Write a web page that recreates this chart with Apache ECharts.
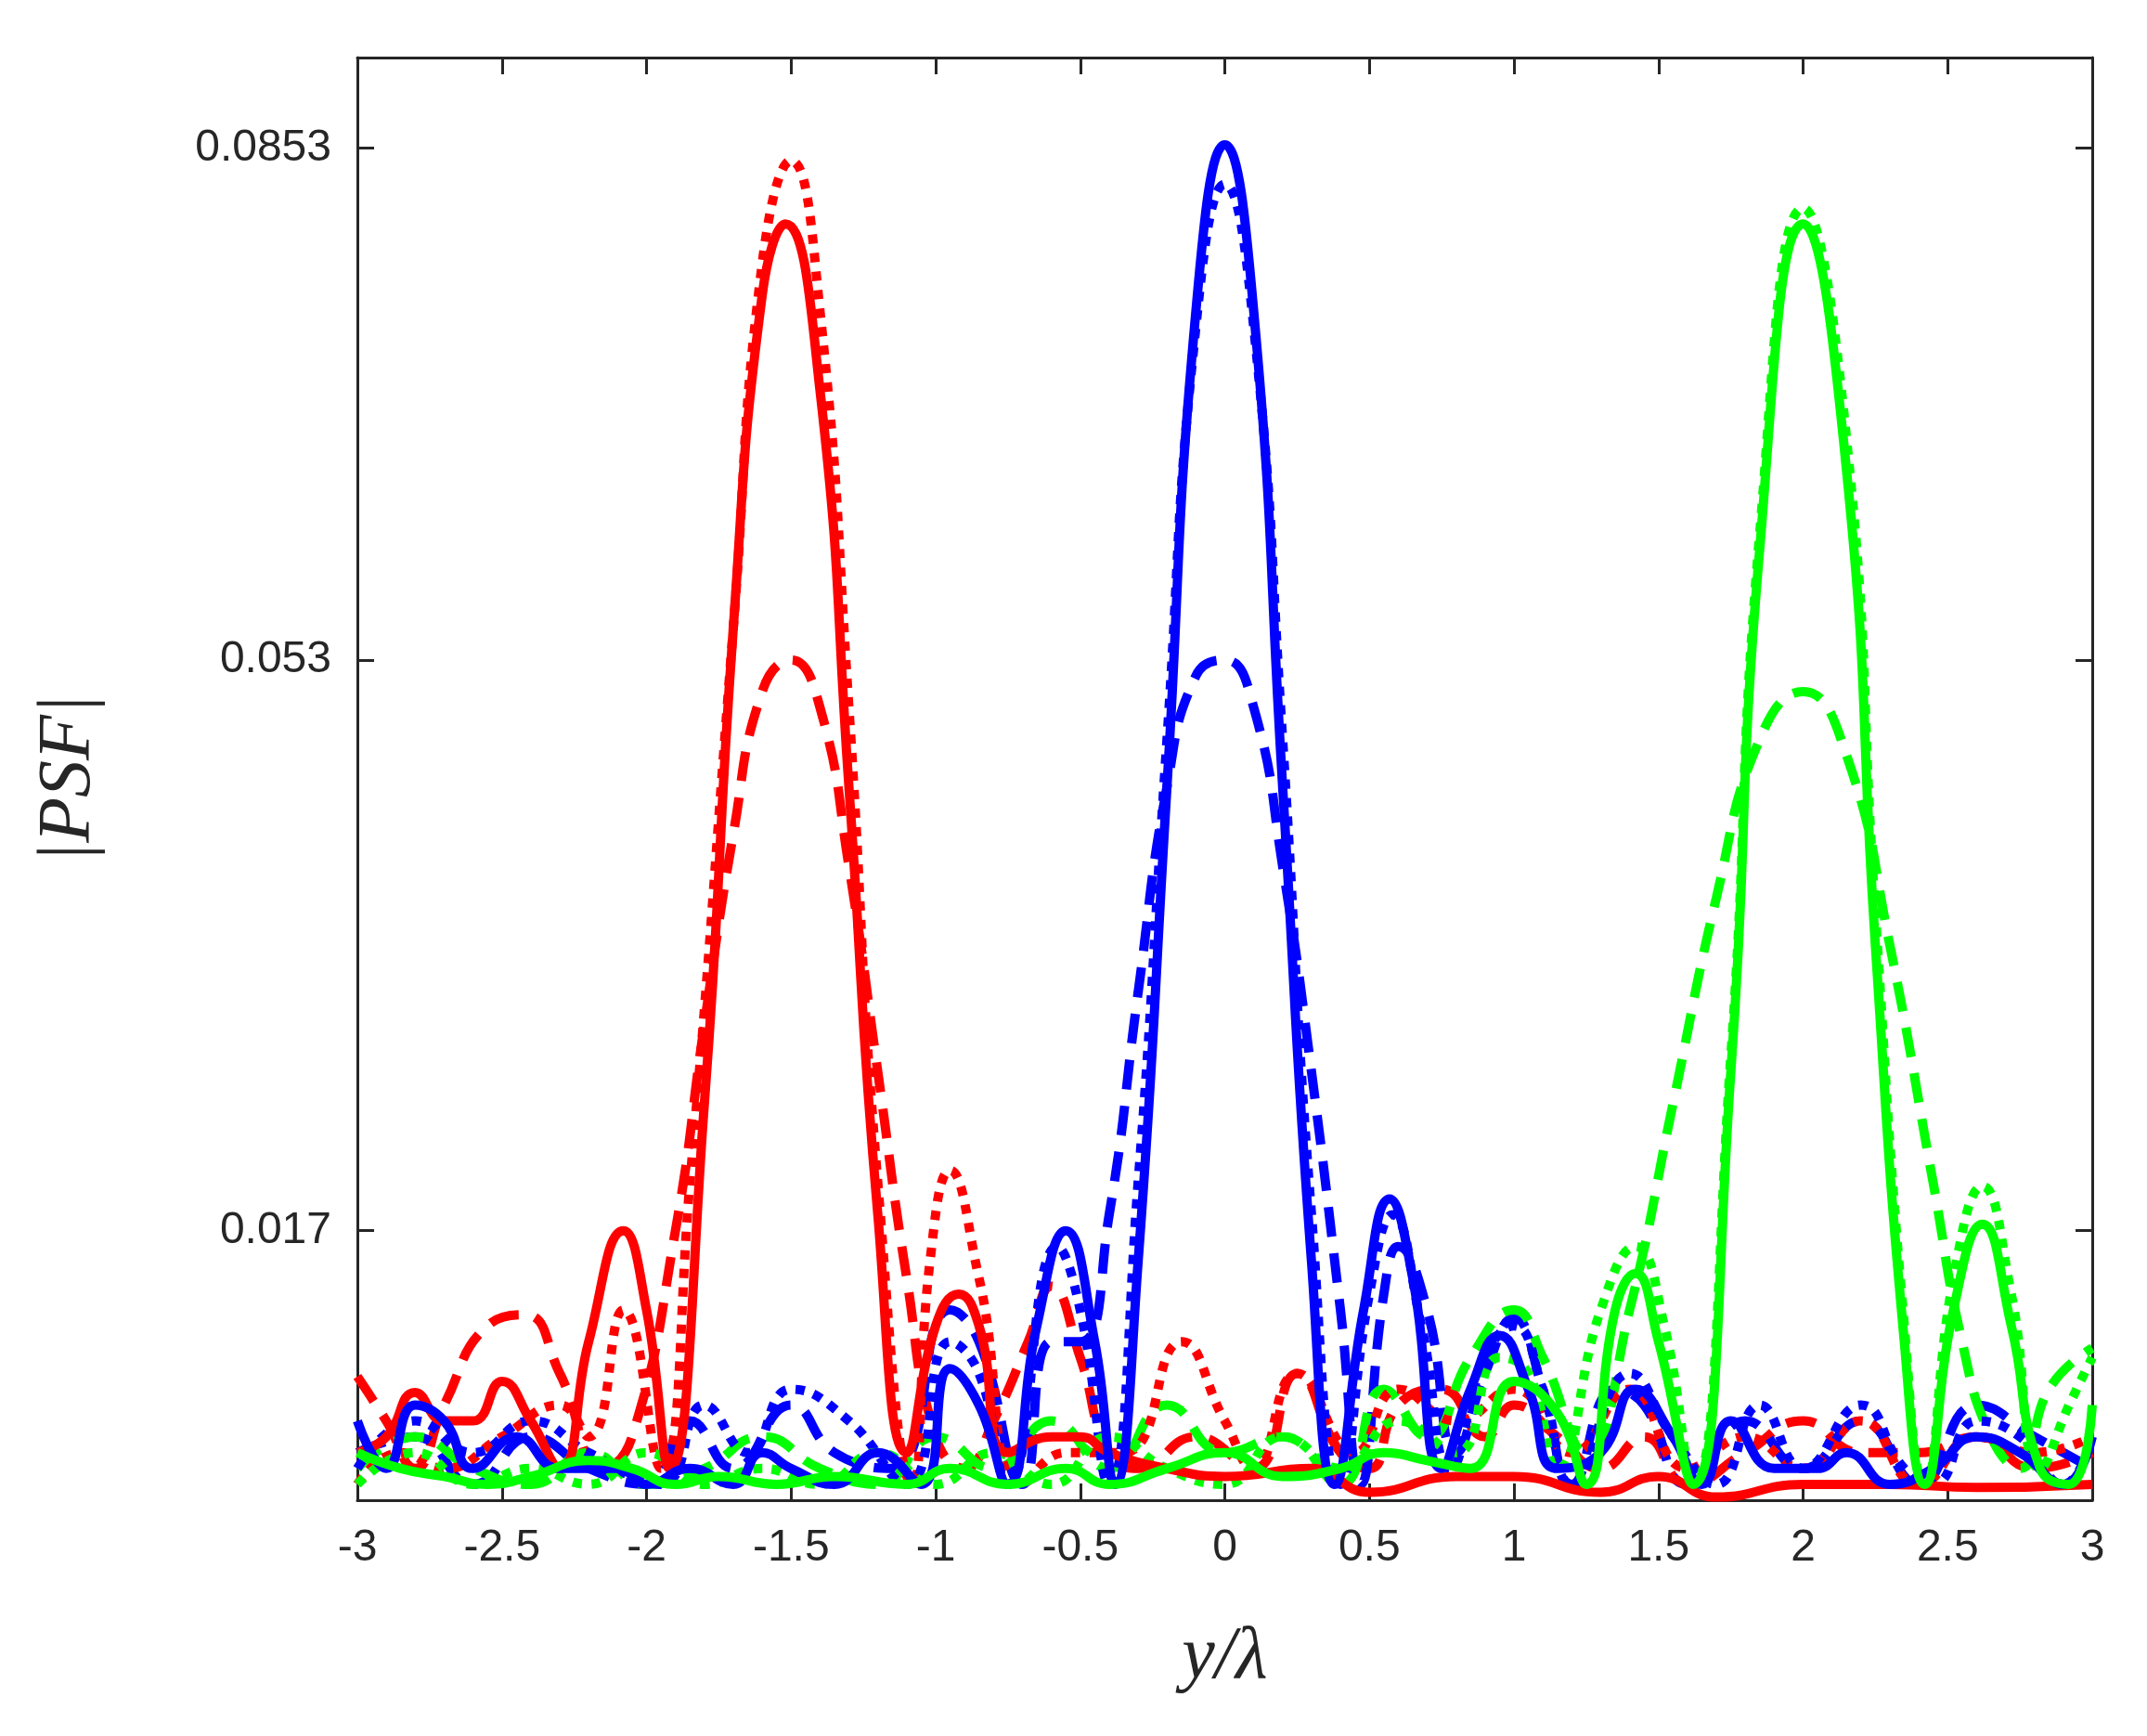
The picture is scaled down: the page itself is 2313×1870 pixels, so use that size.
<!DOCTYPE html>
<html><head><meta charset="utf-8">
<script src="https://cdn.jsdelivr.net/npm/echarts@6/dist/echarts.min.js"></script>
<style>html,body{margin:0;padding:0;background:#fff}#c{width:2313px;height:1870px}</style>
</head><body><div id="c"></div>
<script>
const xTicks = [-3,-2.5,-2,-1.5,-1,-0.5,0,0.5,1,1.5,2,2.5,3];
const yTicks = [0.017,0.053,0.0853];
const redSolid = [[-3,0.003],[-2.9,0.004],[-2.8,0.0068],[-2.7,0.005],[-2.6,0.005],[-2.5,0.0075],[-2.4,0.005],[-2.3,0.002],[-2.2,0.01],[-2.08,0.017],[-2.0,0.012],[-1.92,0.002],[-1.8,0.025],[-1.7,0.055],[-1.6,0.076],[-1.52,0.0805],[-1.4,0.07],[-1.3,0.045],[-1.2,0.018],[-1.1,0.003],[-1.0,0.011],[-0.92,0.013],[-0.85,0.011],[-0.75,0.003],[-0.6,0.004],[-0.5,0.004],[-0.4,0.003],[-0.2,0.002],[0,0.0015],[0.3,0.002],[0.5,0.0005],[0.8,0.0015],[1,0.0015],[1.3,0.0005],[1.5,0.0015],[1.7,0.0002],[2.0,0.001],[2.3,0.001],[2.6,0.0008],[3,0.001]];
const redDotted = [[-3,0.001],[-2.85,0.003],[-2.7,0.002],[-2.5,0.004],[-2.3,0.006],[-2.2,0.004],[-2.08,0.012],[-1.95,0.002],[-1.85,0.02],[-1.7,0.055],[-1.6,0.078],[-1.5,0.0845],[-1.4,0.075],[-1.3,0.05],[-1.2,0.02],[-1.08,0.001],[-1.02,0.015],[-0.95,0.0208],[-0.85,0.014],[-0.7,0.001],[-0.55,0.003],[-0.35,0.003],[-0.15,0.010],[0,0.005],[0.1,0.002],[0.25,0.008],[0.45,0.003],[0.6,0.007],[0.8,0.005],[1.0,0.007],[1.2,0.003],[1.4,0.007],[1.6,0.002],[1.8,0.004],[2.0,0.002],[2.2,0.005],[2.4,0.001],[2.6,0.004],[2.8,0.003],[3,0.004]];
const redDashed = [[-3,0.0078],[-2.9,0.005],[-2.8,0.002],[-2.7,0.006],[-2.55,0.011],[-2.42,0.0117],[-2.3,0.008],[-2.15,0.002],[-2.05,0.004],[-1.9,0.017],[-1.8,0.03],[-1.7,0.042],[-1.6,0.051],[-1.5,0.053],[-1.4,0.05],[-1.3,0.04],[-1.2,0.027],[-1.1,0.014],[-1.0,0.004],[-0.9,0.002],[-0.8,0.005],[-0.68,0.010],[-0.6,0.0135],[-0.5,0.009],[-0.4,0.003],[-0.3,0.002],[-0.1,0.004],[0.1,0.002],[0.25,0.008],[0.4,0.003],[0.5,0.002],[0.6,0.006],[0.75,0.007],[0.9,0.004],[1.0,0.006],[1.15,0.004],[1.3,0.002],[1.45,0.004],[1.6,0.001],[1.8,0.003],[2.0,0.005],[2.2,0.003],[2.4,0.003],[2.6,0.004],[2.8,0.002],[3,0.003]];
const blueSolid = [[-3,0.005],[-2.9,0.002],[-2.8,0.006],[-2.7,0.005],[-2.6,0.002],[-2.45,0.004],[-2.3,0.002],[-2.1,0.002],[-2.0,0.001],[-1.85,0.002],[-1.7,0.001],[-1.6,0.003],[-1.5,0.002],[-1.35,0.001],[-1.2,0.003],[-1.05,0.001],[-0.95,0.0083],[-0.85,0.006],[-0.75,0.001],[-0.65,0.011],[-0.55,0.017],[-0.45,0.01],[-0.38,0.001],[-0.3,0.015],[-0.2,0.045],[-0.1,0.075],[0,0.0855],[0.1,0.075],[0.2,0.045],[0.3,0.015],[0.38,0.001],[0.48,0.012],[0.57,0.019],[0.65,0.014],[0.75,0.002],[0.85,0.007],[0.95,0.0104],[1.05,0.007],[1.15,0.002],[1.3,0.003],[1.42,0.007],[1.55,0.004],[1.65,0.001],[1.75,0.005],[1.9,0.002],[2.05,0.002],[2.15,0.003],[2.3,0.001],[2.45,0.002],[2.6,0.004],[2.75,0.003],[2.9,0.001],[3,0.004]];
const blueDotted = [[-3,0.002],[-2.8,0.005],[-2.6,0.003],[-2.4,0.005],[-2.2,0.003],[-1.95,0.001],[-1.8,0.006],[-1.65,0.003],[-1.5,0.007],[-1.3,0.005],[-1.1,0.001],[-0.95,0.010],[-0.85,0.008],[-0.75,0.001],[-0.58,0.016],[-0.5,0.012],[-0.4,0.001],[-0.3,0.02],[-0.2,0.048],[-0.1,0.074],[0,0.083],[0.1,0.074],[0.2,0.048],[0.3,0.018],[0.4,0.001],[0.5,0.013],[0.58,0.018],[0.68,0.011],[0.78,0.002],[0.9,0.009],[1.0,0.011],[1.1,0.007],[1.2,0.001],[1.4,0.008],[1.55,0.004],[1.7,0.001],[1.85,0.006],[2.0,0.002],[2.2,0.006],[2.35,0.002],[2.45,0.001],[2.6,0.005],[2.75,0.004],[2.9,0.001],[3,0.004]];
const blueDashed = [[-3,0.003],[-2.8,0.004],[-2.6,0.001],[-2.4,0.004],[-2.2,0.002],[-2.0,0.001],[-1.85,0.005],[-1.7,0.002],[-1.5,0.006],[-1.35,0.003],[-1.15,0.002],[-0.95,0.012],[-0.85,0.01],[-0.7,0.001],[-0.6,0.010],[-0.5,0.01],[-0.4,0.018],[-0.3,0.032],[-0.2,0.045],[-0.1,0.052],[0,0.053],[0.1,0.05],[0.2,0.04],[0.3,0.027],[0.4,0.012],[0.47,0.001],[0.55,0.013],[0.6,0.016],[0.7,0.012],[0.8,0.003],[0.9,0.008],[1.0,0.0115],[1.1,0.007],[1.2,0.001],[1.35,0.007],[1.45,0.006],[1.6,0.001],[1.8,0.005],[2.0,0.002],[2.2,0.005],[2.4,0.001],[2.6,0.006],[2.8,0.004],[3,0.002]];
const greenSolid = [[-3,0.003],[-2.85,0.002],[-2.7,0.0015],[-2.55,0.001],[-2.4,0.0015],[-2.2,0.0025],[-2.05,0.002],[-1.9,0.001],[-1.75,0.0015],[-1.55,0.001],[-1.35,0.0015],[-1.1,0.001],[-0.95,0.002],[-0.75,0.001],[-0.55,0.002],[-0.4,0.001],[-0.2,0.002],[0,0.003],[0.2,0.0015],[0.4,0.002],[0.55,0.003],[0.7,0.0025],[0.85,0.002],[1.0,0.0075],[1.15,0.0055],[1.25,0.001],[1.35,0.012],[1.42,0.0143],[1.5,0.01],[1.62,0.001],[1.75,0.027],[1.85,0.06],[2.0,0.0805],[2.15,0.065],[2.25,0.035],[2.35,0.01],[2.42,0.001],[2.52,0.012],[2.62,0.0174],[2.72,0.011],[2.82,0.002],[2.92,0.001],[3,0.006]];
const greenDotted = [[-3,0.001],[-2.8,0.003],[-2.6,0.001],[-2.4,0.002],[-2.2,0.001],[-2.0,0.003],[-1.8,0.001],[-1.6,0.002],[-1.4,0.001],[-1.2,0.003],[-1.0,0.001],[-0.8,0.003],[-0.6,0.001],[-0.4,0.004],[-0.2,0.002],[0,0.001],[0.2,0.004],[0.4,0.002],[0.6,0.005],[0.8,0.003],[0.95,0.009],[1.05,0.008],[1.15,0.002],[1.3,0.012],[1.42,0.016],[1.52,0.011],[1.62,0.001],[1.75,0.028],[1.85,0.061],[2.0,0.0815],[2.15,0.067],[2.25,0.037],[2.35,0.011],[2.42,0.001],[2.52,0.014],[2.62,0.0198],[2.72,0.013],[2.82,0.002],[2.92,0.006],[3,0.009]];
const greenDashed = [[-3,0.002],[-2.8,0.004],[-2.6,0.002],[-2.4,0.001],[-2.2,0.003],[-2.0,0.001],[-1.8,0.002],[-1.6,0.004],[-1.4,0.002],[-1.2,0.001],[-1.0,0.004],[-0.8,0.002],[-0.6,0.005],[-0.4,0.002],[-0.2,0.006],[0,0.003],[0.2,0.004],[0.4,0.001],[0.55,0.007],[0.7,0.004],[0.85,0.009],[1.0,0.012],[1.1,0.009],[1.25,0.003],[1.4,0.012],[1.55,0.025],[1.7,0.038],[1.85,0.048],[2.0,0.051],[2.15,0.047],[2.3,0.035],[2.45,0.02],[2.55,0.01],[2.65,0.004],[2.75,0.002],[2.85,0.007],[3,0.0096]];

const RED='#ff0000', BLUE='#0000ff', GREEN='#00ff00';
function s(data,color,type){
  return {type:'line',data:data,smooth:0.5,showSymbol:false,symbol:'none',
    lineStyle:{color:color,width:10,type:type==='dotted'?[10,10]:type==='dashed'?[32,18]:'solid'},
    xAxisIndex:0,yAxisIndex:0,z:type==='solid'?3:2};
}
const line = {show:true,onZero:false,lineStyle:{color:'#262626',width:3}};
const tick = (extra)=>Object.assign({show:true,inside:true,length:18,lineStyle:{color:'#262626',width:3}},extra||{});
const lblFont = {fontSize:48,color:'#262626',fontFamily:'Liberation Sans, Arial',margin:28};
const chart = echarts.init(document.getElementById('c'));
chart.setOption({
  backgroundColor:'#fff',
  grid:{left:385,right:59,top:62,bottom:254},
  xAxis:[
    {type:'value',min:-3,max:3,interval:0.5,position:'bottom',axisLine:line,splitLine:{show:false},
      axisTick:tick(),axisLabel:lblFont,
      name:'y/λ',nameLocation:'middle',nameGap:130,
      nameTextStyle:{fontSize:80,fontStyle:'italic',fontFamily:'Liberation Serif, serif',color:'#262626'}},
    {type:'value',min:-3,max:3,interval:0.5,position:'top',axisLine:line,splitLine:{show:false},
      axisTick:tick(),axisLabel:{show:false}}
  ],
  yAxis:[
    {type:'value',min:0,max:0.091,position:'left',axisLine:line,splitLine:{show:false},
      axisTick:tick({customValues:yTicks}),
      axisLabel:Object.assign({customValues:yTicks},lblFont),
      name:'|PSF|',nameLocation:'middle',nameGap:270,
      nameTextStyle:{fontSize:80,fontStyle:'italic',fontFamily:'Liberation Serif, serif',color:'#262626'}},
    {type:'value',min:0,max:0.091,position:'right',axisLine:line,splitLine:{show:false},
      axisTick:tick({customValues:yTicks}),axisLabel:{show:false}}
  ],
  series:[
    s(redDashed,RED,'dashed'),s(blueDashed,BLUE,'dashed'),s(greenDashed,GREEN,'dashed'),
    s(redDotted,RED,'dotted'),s(blueDotted,BLUE,'dotted'),s(greenDotted,GREEN,'dotted'),
    s(redSolid,RED,'solid'),s(blueSolid,BLUE,'solid'),s(greenSolid,GREEN,'solid')
  ]
});
</script></body></html>
